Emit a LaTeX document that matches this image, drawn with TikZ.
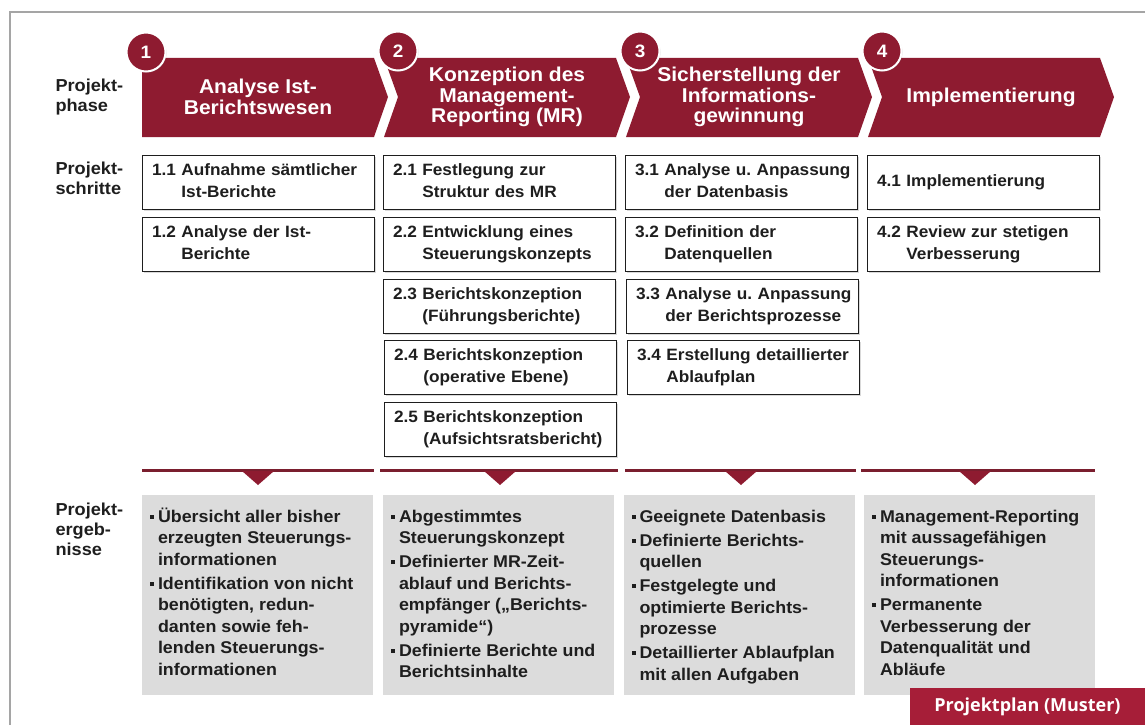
\documentclass[tikz,border=0pt]{standalone}
\usepackage{fontspec}
\setmainfont[FakeStretch=1.05]{Liberation Sans}
\newfontfamily\tagfont{Open Sans}
\usepackage{tikz}
\usetikzlibrary{shadows,calc}
\definecolor{phasered}{RGB}{142,27,48}
\definecolor{linered}{RGB}{122,30,46}
\definecolor{tagred}{RGB}{166,30,56}
\definecolor{resgray}{RGB}{220,220,220}
\definecolor{framegray}{RGB}{165,165,165}
\definecolor{txt}{RGB}{30,30,30}
\frenchspacing

\newcommand{\stp}[2]{#1~\begin{tabular}[t]{@{}l@{}}#2\end{tabular}}
\newcommand{\bul}{\rule[3.5pt]{4pt}{4pt}}

\begin{document}
\begin{tikzpicture}[x=1pt, y=-1pt,
    rowlabel/.style={anchor=west, align=left, text=txt, font=\fontsize{17.3}{20}\selectfont\bfseries},
    phasetext/.style={align=center, text=white, font=\fontsize{20}{20.5}\selectfont\bfseries},
    numcircle/.style={circle, fill=phasered, draw=white, line width=2pt, minimum size=39pt, inner sep=0pt,
        text=white, font=\fontsize{18}{18}\selectfont\bfseries,
        drop shadow={shadow xshift=1pt, shadow yshift=-1pt, opacity=.35}},
    stepbox/.style={draw=txt, line width=0.9pt, fill=white, text=txt, text width=212pt, inner xsep=10pt,
        inner ysep=0pt, minimum height=54pt, align=left, font=\fontsize{16.4}{21.5}\selectfont\bfseries,
        drop shadow={shadow xshift=1.5pt, shadow yshift=-1.5pt, opacity=.3}},
    resbox/.style={fill=resgray, minimum width=231pt, minimum height=200pt, inner sep=0pt},
    restext/.style={anchor=north west, inner sep=0pt, align=left, text=txt, font=\fontsize{17}{21.5}\selectfont\bfseries},
    divline/.style={linered, line width=3pt},
]
    \useasboundingbox (0,0) rectangle (1145,725);
    \draw[framegray, line width=1.3pt] (10,725) -- (10,12) -- (1145,12);

    \node[rowlabel] (lphase) at (52,97) {Projekt-\\phase};
    \node[rowlabel] (lsteps) at (52,178) {Projekt-\\schritte};
    \node[rowlabel] (lres) at (52,529) {Projekt-\\ergeb-\\nisse};

    \fill[phasered] (142,58) -- (374,58) -- (388,97) -- (374,137) -- (142,137) -- cycle;
    \foreach \L in {384,626,868}
        \fill[phasered] (\L,58) -- ++(232,0) -- ++(14,39) -- ++(-14,40) -- ++(-232,0) -- ++(14,-40) -- cycle;
    \node[phasetext] (p1) at (258,97) {Analyse Ist-\\Berichtswesen};
    \node[phasetext] (p2) at (507,97) {Konzeption des\\Management-\\Reporting (MR)};
    \node[phasetext] (p3) at (749,97) {Sicherstellung der\\Informations-\\gewinnung};
    \node[phasetext] (p4) at (991,97) {Implementierung};
    \node[numcircle] (n1) at (146,52) {1};
    \node[numcircle] (n2) at (398,51) {2};
    \node[numcircle] (n3) at (640,51) {3};
    \node[numcircle] (n4) at (882,51) {4};

    \node[stepbox] (s11) at (258,182) {\stp{1.1}{Aufnahme sämtlicher\\Ist-Berichte}};
    \node[stepbox] (s12) at (258,244) {\stp{1.2}{Analyse der Ist-\\Berichte}};
    \node[stepbox] (s21) at (499,182) {\stp{2.1}{Festlegung zur\\Struktur des MR}};
    \node[stepbox] (s22) at (499,244) {\stp{2.2}{Entwicklung eines\\Steuerungskonzepts}};
    \node[stepbox] (s23) at (499,306) {\stp{2.3}{Berichtskonzeption\\(Führungsberichte)}};
    \node[stepbox] (s24) at (500,367) {\stp{2.4}{Berichtskonzeption\\(operative Ebene)}};
    \node[stepbox] (s25) at (500,429) {\stp{2.5}{Berichtskonzeption\\(Aufsichtsratsbericht)}};
    \node[stepbox] (s31) at (741,182) {\stp{3.1}{Analyse u. Anpassung\\der Datenbasis}};
    \node[stepbox] (s32) at (741,244) {\stp{3.2}{Definition der\\Datenquellen}};
    \node[stepbox] (s33) at (742,306) {\stp{3.3}{Analyse u. Anpassung\\der Berichtsprozesse}};
    \node[stepbox] (s34) at (743,367) {\stp{3.4}{Erstellung detaillierter\\Ablaufplan}};
    \node[stepbox] (s41) at (983,182) {4.1 Implementierung};
    \node[stepbox] (s42) at (983,244) {\stp{4.2}{Review zur stetigen\\Verbesserung}};

    \draw[divline] (142,470) -- (374,470);
    \draw[divline] (380,470) -- (618,470);
    \draw[divline] (625,470) -- (856,470);
    \draw[divline] (861,470) -- (1095,470);
    \foreach \c in {258,500,741,975}
        \fill[phasered] (\c-16,471) -- (\c+16,471) -- (\c,485) -- cycle;

    \node[resbox] (r1) at (257.5,595) {};
    \node[resbox] (r2) at (498.5,595) {};
    \node[resbox] (r3) at (739,595) {};
    \node[resbox] (r4) at (979.5,595) {};

    \node[restext] (t1) at ($(r1.north west)+(8,12)$) {\begin{tabular}{@{}p{8pt}@{}l@{}}
        \bul & Übersicht aller bisher\\
             & erzeugten Steuerungs-\\
             & informationen\\[2.5pt]
        \bul & Identifikation von nicht\\
             & benötigten, redun-\\
             & danten sowie feh-\\
             & lenden Steuerungs-\\
             & informationen
    \end{tabular}};
    \node[restext] (t2) at ($(r2.north west)+(8,12)$) {\begin{tabular}{@{}p{8pt}@{}l@{}}
        \bul & Abgestimmtes\\
             & Steuerungskonzept\\[2.5pt]
        \bul & Definierter MR-Zeit-\\
             & ablauf und Berichts-\\
             & empfänger („Berichts-\\
             & pyramide“)\\[2.5pt]
        \bul & Definierte Berichte und\\
             & Berichtsinhalte
    \end{tabular}};
    \node[restext] (t3) at ($(r3.north west)+(8,12)$) {\begin{tabular}{@{}p{8pt}@{}l@{}}
        \bul & Geeignete Datenbasis\\[2.5pt]
        \bul & Definierte Berichts-\\
             & quellen\\[2.5pt]
        \bul & Festgelegte und\\
             & optimierte Berichts-\\
             & prozesse\\[2.5pt]
        \bul & Detaillierter Ablaufplan\\
             & mit allen Aufgaben
    \end{tabular}};
    \node[restext] (t4) at ($(r4.north west)+(8,12)$) {\begin{tabular}{@{}p{8pt}@{}l@{}}
        \bul & Management-Reporting\\
             & mit aussagefähigen\\
             & Steuerungs-\\
             & informationen\\[2.5pt]
        \bul & Permanente\\
             & Verbesserung der\\
             & Datenqualität und\\
             & Abläufe
    \end{tabular}};

    \node[fill=tagred, minimum width=235pt, minimum height=37pt, inner sep=0pt, text=white,
        font=\tagfont\fontsize{18}{18}\selectfont\bfseries] (tag) at (1027.5,706.5) {Projektplan (Muster)};
\end{tikzpicture}
\end{document}
